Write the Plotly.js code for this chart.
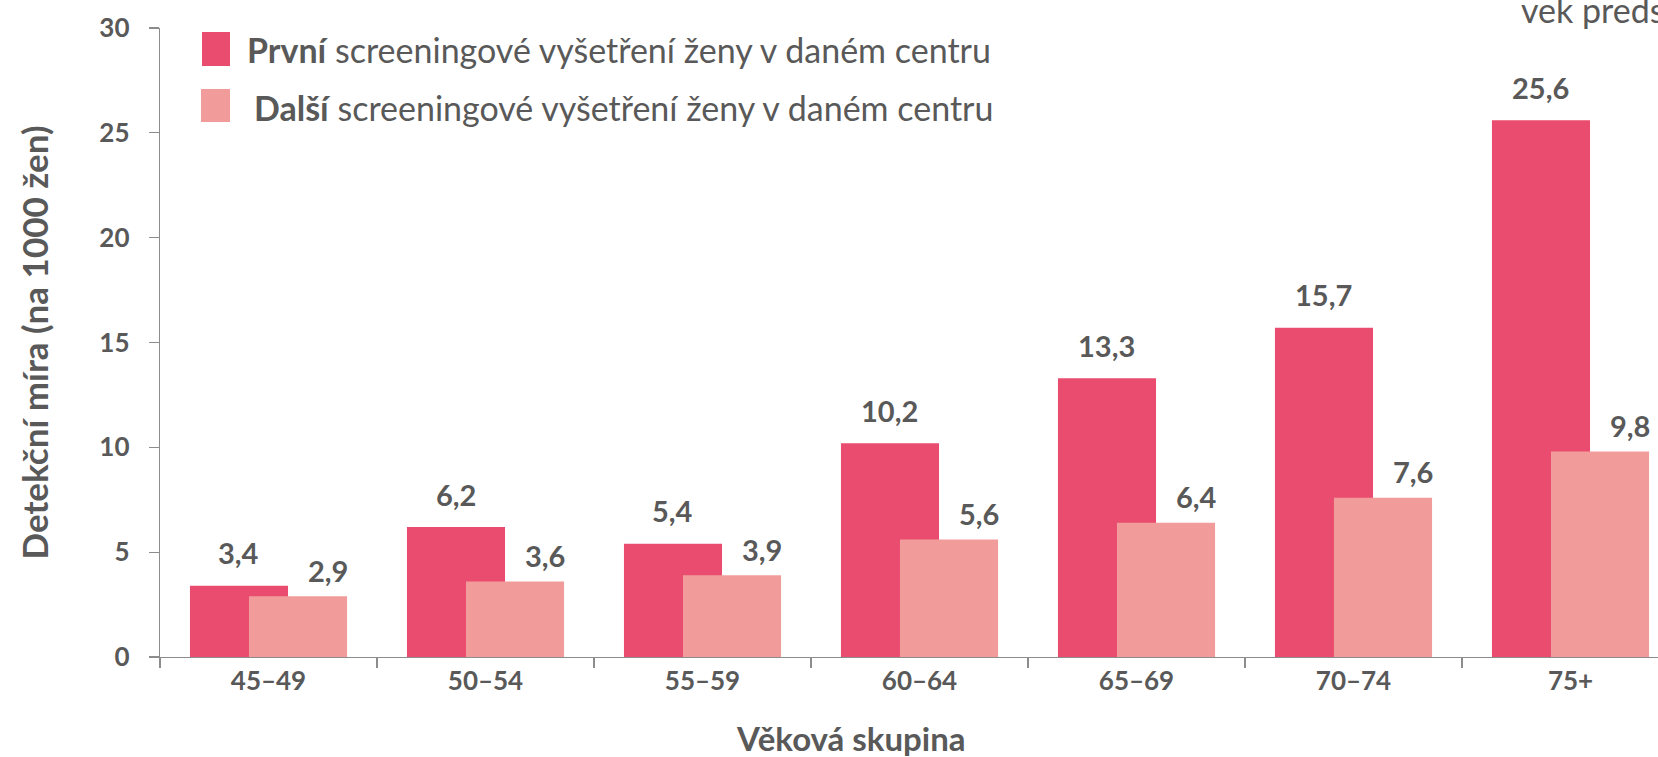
<!DOCTYPE html>
<html>
<head>
<meta charset="utf-8">
<script src="https://cdn.plot.ly/plotly-3.0.1.min.js"></script>
<style>
  html, body { margin: 0; padding: 0; overflow: hidden; background: #ffffff; }
  #chart { width: 1700px; height: 757px; }
</style>
</head>
<body>
<div id="chart"></div>
<script>
// ---- data ----
const categories = ["45–49", "50–54", "55–59", "60–64", "65–69", "70–74", "75+"];
const firstExam = [3.4, 6.2, 5.4, 10.2, 13.3, 15.7, 25.6];
const nextExam = [2.9, 3.6, 3.9, 5.6, 6.4, 7.6, 9.8];
const seriesNames = ["<b>První</b> screeningové vyšetření ženy v daném centru",
                     "<b>Další</b> screeningové vyšetření ženy v daném centru"];
const yTitle = "Detekční míra (na 1000 žen)";
const xTitle = "Věková skupina";
const cornerText = "vek predstavuje";

// ---- style ----
const DARK = "#EA4C6F";
const LIGHT = "#F19C9A";
const TEXT = "#595959";
const AXIS = "#8C8C8C";
const FONT = "Lato, 'Open Sans', sans-serif";

const W = 1700, H = 757;
const M = {l: 160, r: 21, t: 28, b: 100};
const pw = W - M.l - M.r, ph = H - M.t - M.b;
const px = x => (x - M.l) / pw;
const py = y => (H - M.b - y) / ph;

const BW = 0.452, OFF1 = -0.362, OFF2 = -0.09;
const fmt = v => v.toFixed(1).replace(".", ",");

const traces = [
  {type: "bar", x: categories, y: firstExam, name: seriesNames[0],
   width: BW, offset: OFF1, marker: {color: DARK, line: {width: 0}},
   showlegend: false, hoverinfo: "x+y"},
  {type: "bar", x: categories, y: nextExam, name: seriesNames[1],
   width: BW, offset: OFF2, marker: {color: LIGHT, line: {width: 0}},
   showlegend: false, hoverinfo: "x+y"}
];

const annotations = [];
firstExam.forEach((v, i) => annotations.push({
  x: i + OFF1 + BW / 2, y: v, xref: "x", yref: "y", text: "<b>" + fmt(v) + "</b>",
  showarrow: false, xanchor: "center", yanchor: "middle", yshift: 33,
  font: {family: FONT, size: 29, color: TEXT}
}));
nextExam.forEach((v, i) => annotations.push({
  x: i + OFF2 + BW / 2, y: v, xref: "x", yref: "y", text: "<b>" + fmt(v) + "</b>",
  showarrow: false, xanchor: "center", yanchor: "middle", yshift: 26, xshift: 30,
  font: {family: FONT, size: 29, color: TEXT}
}));
// legend (drawn manually)
annotations.push({x: px(245), y: py(50), xref: "paper", yref: "paper", text: seriesNames[0],
  showarrow: false, xanchor: "left", yanchor: "middle", font: {family: FONT, size: 34, color: TEXT}});
annotations.push({x: px(252), y: py(107), xref: "paper", yref: "paper", text: seriesNames[1],
  showarrow: false, xanchor: "left", yanchor: "middle", font: {family: FONT, size: 34, color: TEXT}});
// x axis title (offset left of centre, as in the reference)
annotations.push({x: px(851), y: py(738), xref: "paper", yref: "paper", text: "<b>" + xTitle + "</b>",
  showarrow: false, xanchor: "center", yanchor: "middle", font: {family: FONT, size: 33, color: TEXT}});
// clipped corner text
annotations.push({x: px(1519), y: py(9), xref: "paper", yref: "paper", text: cornerText,
  showarrow: false, xanchor: "left", yanchor: "middle", font: {family: FONT, size: 34, color: TEXT}});

const shapes = [
  {type: "rect", xref: "paper", yref: "paper", x0: px(202), x1: px(230), y0: py(66), y1: py(32),
   fillcolor: DARK, line: {width: 0}},
  {type: "rect", xref: "paper", yref: "paper", x0: px(201), x1: px(230), y0: py(122), y1: py(89),
   fillcolor: LIGHT, line: {width: 0}}
];

const layout = {
  width: W, height: H,
  margin: M,
  paper_bgcolor: "#ffffff", plot_bgcolor: "#ffffff",
  barmode: "overlay",
  showlegend: false,
  font: {family: FONT, color: TEXT},
  xaxis: {
    type: "category", tickson: "boundaries", ticks: "outside", ticklen: 10,
    tickcolor: AXIS, tickwidth: 1.3, showline: true, linecolor: AXIS, linewidth: 1.3,
    showgrid: false, zeroline: false,
    tickfont: {family: FONT, size: 26, color: TEXT, weight: 700},
    automargin: false, fixedrange: true
  },
  yaxis: {
    range: [0, 30], dtick: 5, ticks: "outside", ticklen: 10,
    tickcolor: AXIS, tickwidth: 1.3, showline: true, linecolor: AXIS, linewidth: 1.3,
    showgrid: false, zeroline: false, ticklabelstandoff: 14,
    tickfont: {family: FONT, size: 26, color: TEXT, weight: 700},
    title: {text: yTitle, font: {family: FONT, size: 35, color: TEXT, weight: 700}, standoff: 40},
    automargin: false, fixedrange: true
  },
  annotations: annotations,
  shapes: shapes
};

Plotly.newPlot("chart", traces, layout, {displayModeBar: false, staticPlot: true});
</script>
</body>
</html>
